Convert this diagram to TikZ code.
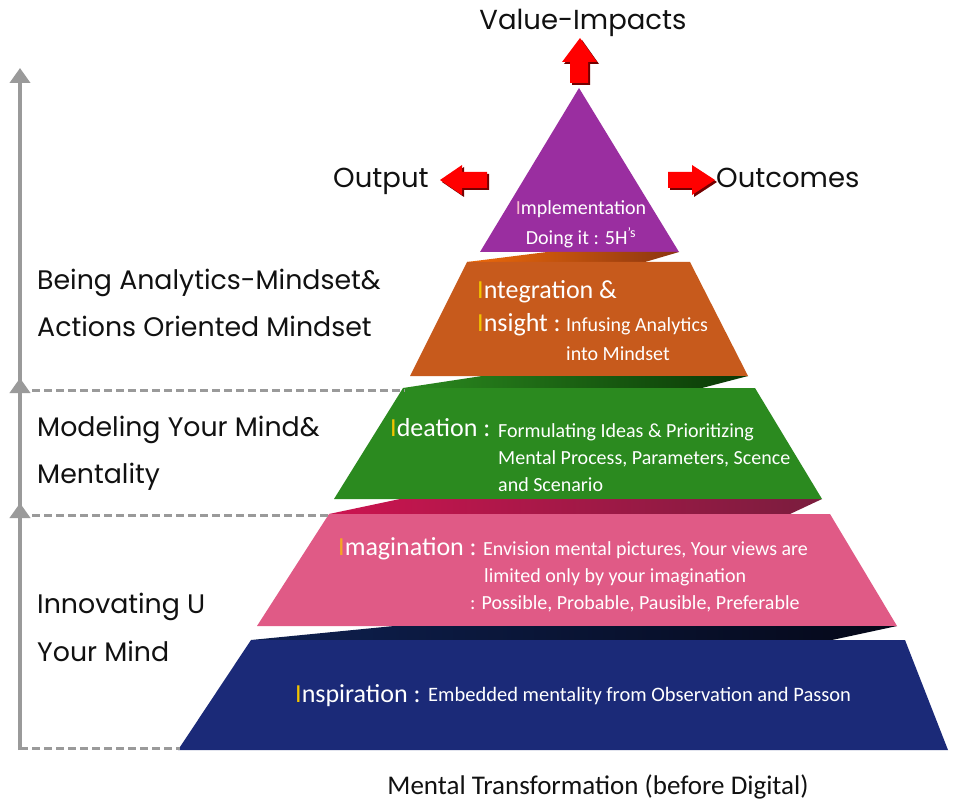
\documentclass[tikz,border=0pt]{standalone}
\usepackage{fontspec}
\usetikzlibrary{arrows.meta}
\newfontfamily\labfont{Poppins}
\newfontfamily\infont{Carlito}
\definecolor{cpurple}{HTML}{9A2EA0}
\definecolor{corange}{HTML}{C75A1C}
\definecolor{cgreen}{HTML}{2B8A1F}
\definecolor{cpink}{HTML}{E05A86}
\definecolor{cnavy}{HTML}{1B2A78}
\definecolor{rAl}{HTML}{EE6A0A}\definecolor{rAr}{HTML}{8A3510}
\definecolor{rBl}{HTML}{2B8A1F}\definecolor{rBr}{HTML}{0A3806}
\definecolor{rCl}{HTML}{CC1450}\definecolor{rCr}{HTML}{7A1D3E}
\definecolor{rDl}{HTML}{0E2050}\definecolor{rDr}{HTML}{050818}
\definecolor{cgold}{HTML}{F2C300}
\definecolor{camber}{HTML}{F5A623}
\definecolor{cpinkI}{HTML}{F6B8CC}
\definecolor{cgrayline}{HTML}{9A9A9A}
\definecolor{ctext}{HTML}{111111}
\newcommand{\firstl}[2]{\textcolor{#1}{#2}}
\tikzset{
  lab/.style={font=\labfont\fontsize{26.8}{30}\selectfont, text=ctext, inner sep=0pt, anchor=base west},
  toplab/.style={font=\labfont\fontsize{27.5}{32}\selectfont, text=ctext, inner sep=0pt},
  head/.style={font=\infont\fontsize{26}{30}\selectfont, text=white, inner sep=0pt, anchor=base west},
  desc/.style={font=\infont\fontsize{20}{24}\selectfont, text=white, inner sep=0pt, anchor=base west},
  bottomlab/.style={font=\infont\fontsize{27}{30}\selectfont, text=ctext, inner sep=0pt, anchor=base},
  grayarrow/.style={draw=cgrayline, line width=4pt, -{Triangle[width=20pt,length=15pt]}},
  graydash/.style={draw=cgrayline, line width=3pt, dash pattern=on 8pt off 4pt},
  redarrow/.style={fill=red, draw=none},
  redshadow/.style={fill=red!45!black, draw=none},
}
\begin{document}
\begin{tikzpicture}[x=1pt,y=-1pt]
\useasboundingbox (0,0) rectangle (963,802);
\fill[white] (0,0) rectangle (963,802);

% ---- pyramid layers ----
\fill[cpurple] (579,88) -- (679,252) -- (480,252) -- cycle;
\shade[left color=rAl, right color=rAr] (547,252) -- (679,252) -- (645,262) -- (467,262) -- cycle;
\fill[corange] (467,262) -- (690,262) -- (748,376) -- (410,376) -- cycle;
\shade[left color=rBl, right color=rBr] (482,376) -- (748,376) -- (702,388) -- (403,388) -- cycle;
\fill[cgreen] (403,388) -- (755,388) -- (822,499) -- (334,499) -- cycle;
\shade[left color=rCl, right color=rCr] (400,499) -- (822,499) -- (790,514) -- (329,514) -- cycle;
\fill[cpink] (329,514) -- (830,514) -- (897,626) -- (257,626) -- cycle;
\shade[left color=rDl, right color=rDr] (394,626) -- (897,626) -- (832,640) -- (251,640) -- cycle;
\fill[cnavy] (251,640) -- (905,640) -- (948,750) -- (178,750) -- cycle;

% ---- red block arrows ----
\fill[redshadow] (572,85) -- (572,64) -- (564,64) -- (582,40) -- (599,64) -- (590,64) -- (590,85) -- cycle;
\fill[redarrow] (570,83) -- (570,62) -- (562,62) -- (580,38) -- (597,62) -- (588,62) -- (588,83) -- cycle;
\fill[redshadow] (489,174) -- (464,174) -- (464,167) -- (442,182) -- (464,197) -- (464,190) -- (489,190) -- cycle;
\fill[redarrow] (487,172) -- (462,172) -- (462,165) -- (440,180) -- (462,195) -- (462,188) -- (487,188) -- cycle;
\fill[redshadow] (670,174) -- (694,174) -- (694,167) -- (717,182) -- (694,197) -- (694,190) -- (670,190) -- cycle;
\fill[redarrow] (668,172) -- (692,172) -- (692,165) -- (715,180) -- (692,195) -- (692,188) -- (668,188) -- cycle;

% ---- gray side arrows ----
\coordinate (g0) at (20,750);
\coordinate (g1) at (20,503);
\coordinate (g1b) at (20,516);
\coordinate (g2) at (20,378);
\coordinate (g2b) at (20,391);
\coordinate (g3) at (20,68);
\coordinate (d1) at (405,390);
\coordinate (d2) at (331,515);
\coordinate (d0) at (180,748);
\coordinate (d0a) at (20,748);
\coordinate (d1a) at (20,390);
\coordinate (d2a) at (20,515);
\draw[graydash] (d1a) -- (d1);
\draw[graydash] (d2a) -- (d2);
\draw[graydash] (d0a) -- (d0);
\draw[grayarrow] (g0) -- (g1);
\draw[grayarrow] (g1b) -- (g2);
\draw[grayarrow] (g2b) -- (g3);

% ---- top labels ----
\node[toplab, anchor=base] (vi) at (583,30) {Value-Impacts};
\node[toplab, anchor=base west] (out) at (333,188) {Output};
\node[toplab, anchor=base west] (outc) at (716,188) {Outcomes};

% ---- left labels ----
\node[lab] (l1) at (37,289) {Being Analytics-Mindset\&};
\node[lab] (l2) at (37,336) {Actions Oriented Mindset};
\node[lab] (l3) at (37,436) {Modeling Your Mind\&};
\node[lab] (l4) at (37,483) {Mentality};
\node[lab] (l5) at (37,613) {Innovating U};
\node[lab] (l6) at (37,661) {Your Mind};

% ---- pyramid text ----
\node[desc, anchor=base] (t1) at (581,215) {\firstl{cpinkI}{I}mplementation};
\node[desc, anchor=base] (t2) at (581,245) {Doing it : 5H\textsuperscript{’s}};

\node[head] (t3) at (477,298) {\firstl{cgold}{I}ntegration \&};
\node[head] (t4) at (477,331) {\firstl{cgold}{I}nsight :};
\node[desc] (t5) at (566,331) {Infusing Analytics};
\node[desc] (t6) at (566,360) {into Mindset};

\node[head] (t7) at (390,436) {\firstl{cgold}{I}deation :};
\node[desc] (t8) at (498,437) {Formulating Ideas \& Prioritizing};
\node[desc] (t9) at (498,464) {Mental Process, Parameters, Scence};
\node[desc] (t10) at (498,491) {and Scenario};

\node[head] (t11) at (338,555) {\firstl{camber}{I}magination :};
\node[desc] (t12) at (483,555) {Envision mental pictures, Your views are};
\node[desc] (t13) at (484,582) {limited only by your imagination};
\node[desc] (t14) at (470,609) {: Possible, Probable, Pausible, Preferable};

\node[head] (t15) at (295,702) {\firstl{cgold}{I}nspiration :};
\node[desc, font=\infont\fontsize{20.5}{24}\selectfont] (t16) at (428,701) {Embedded mentality from Observation and Passon};

% ---- bottom label ----
\node[bottomlab] (bt) at (598,794) {Mental Transformation (before Digital)};
\end{tikzpicture}
\end{document}
